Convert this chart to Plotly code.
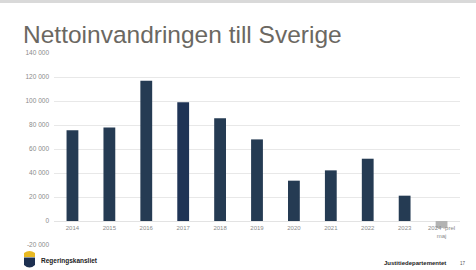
import plotly.graph_objects as go

years = ["2014", "2015", "2016", "2017", "2018", "2019", "2020", "2021", "2022", "2023", "2024 -prel<br>maj"]
values = [75600, 78000, 116900, 98900, 85600, 68000, 33600, 42200, 51900, 21100, -5800]
bar_colors = ["#253b53"] * 10 + ["#b3b3b3"]
bar_colors[3] = "#1f3456"
y_ticks = [-20000, 0, 20000, 40000, 60000, 80000, 100000, 120000, 140000]
y_tick_labels = ["-20 000", "0", "20 000", "40 000", "60 000", "80 000", "100 000", "120 000", "140 000"]

W, H = 476, 270
L, R, T, B = 54, 16, 53, 25

fig = go.Figure()
fig.add_trace(go.Bar(x=years, y=values, marker=dict(color=bar_colors, line=dict(width=0)),
                     hoverinfo="skip"))

zero_pos = (0 - (-20000)) / (140000 - (-20000))

fig.update_layout(
    width=W, height=H,
    margin=dict(l=L, r=R, t=T, b=B),
    paper_bgcolor="white", plot_bgcolor="white",
    bargap=0.68,
    showlegend=False,
    font=dict(family="Liberation Sans, Arial, sans-serif", color="#8a8a8a", size=6),
    title=dict(text="Nettoinvandringen till Sverige", xref="container", yref="container",
               x=23 / W, xanchor="left", y=1 - 34 / H, yanchor="middle",
               font=dict(family="Liberation Sans, Arial, sans-serif", size=24.5, color="#6b6862")),
    xaxis=dict(type="category", anchor="free", position=zero_pos, showline=False, ticks="",
               showgrid=False, tickfont=dict(size=6, color="#8a8a8a"), ticklabelstandoff=2),
    yaxis=dict(range=[-20000, 140000], tickvals=y_ticks, ticktext=y_tick_labels,
               showgrid=True, gridcolor="#e8e8e8", gridwidth=1, zeroline=True,
               zerolinecolor="#e3e3e3", zerolinewidth=1, showline=False, ticks="",
               tickfont=dict(size=6.5, color="#8a8a8a"), ticklabelstandoff=4),
)

def px(x):
    return (x - L) / (W - L - R)

def py(y):
    return (H - B - y) / (H - T - B)

shapes = []
# top grey band of slide
shapes.append(dict(type="rect", xref="paper", yref="paper", x0=px(0), x1=px(W), y0=py(3), y1=py(0),
                   fillcolor="#d9d9d9", line=dict(width=0), layer="below"))
# logo: crown
shapes.append(dict(type="path", xref="paper", yref="paper",
                   path=f"M {px(24)},{py(257)} L {px(35)},{py(257)} L {px(35)},{py(253)} Q {px(29.5)},{py(249)} {px(24)},{py(253)} Z",
                   fillcolor="#e8b923", line=dict(width=0)))
# logo: shield
shapes.append(dict(type="path", xref="paper", yref="paper",
                   path=f"M {px(24)},{py(257.5)} L {px(35)},{py(257.5)} L {px(35)},{py(265)} Q {px(29.5)},{py(270)} {px(24)},{py(265)} Z",
                   fillcolor="#1d3050", line=dict(width=0)))
fig.update_layout(shapes=shapes)

fig.add_annotation(text="<b>Regeringskansliet</b>", xref="paper", yref="paper", x=px(39), y=py(261),
                   xanchor="left", yanchor="middle", showarrow=False,
                   font=dict(size=6.5, color="#222222", family="Liberation Sans, Arial, sans-serif"))
fig.add_annotation(text="<b>Justitiedepartementet</b>", xref="paper", yref="paper", x=px(448), y=py(263),
                   xanchor="right", yanchor="middle", showarrow=False,
                   font=dict(size=6, color="#222222", family="Liberation Sans, Arial, sans-serif"))
fig.add_annotation(text="17", xref="paper", yref="paper", x=px(463), y=py(263),
                   xanchor="center", yanchor="middle", showarrow=False,
                   font=dict(size=4.5, color="#555555", family="Liberation Sans, Arial, sans-serif"))

fig.write_html("out.html")
